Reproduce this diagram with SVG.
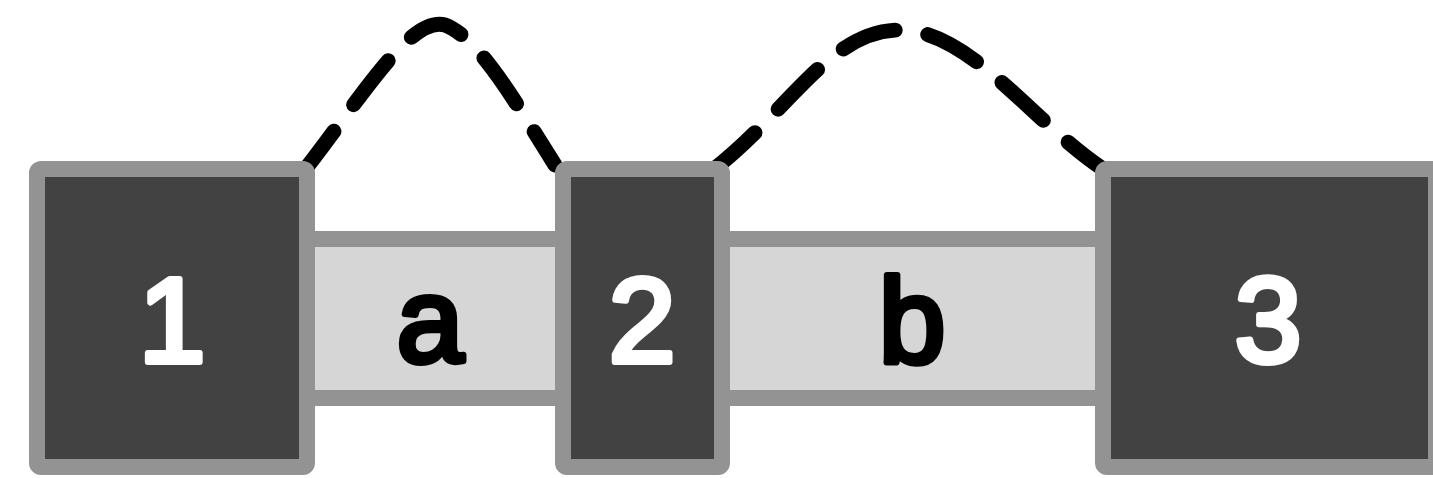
<svg xmlns="http://www.w3.org/2000/svg" width="1433" height="478" viewBox="0 0 1433 478">
<style>
.box{fill:#424242;stroke:#939393;stroke-width:16;stroke-linejoin:round}
.link{fill:#d6d6d6;stroke:#939393;stroke-width:16}
.dash{fill:none;stroke:#000;stroke-width:15;stroke-linecap:round;stroke-dasharray:56 33}
.lbl{font-family:"Liberation Sans",Arial,sans-serif;font-size:120px;text-anchor:middle;stroke-width:6;stroke-linejoin:round}
.lw{fill:#fff;stroke:#fff}
.lb{fill:#000;stroke:#000}
</style>
<rect width="1433" height="478" fill="#fff"/>
<g id="connectors">
<path class="dash" d="M300,176 C360,100 410,15 445,25 C480,38 520,110 555,165"/>
<path class="dash" d="M713,170 C790,110 830,30 900,30 C970,30 1030,120 1103,169"/>
</g>
<g id="link-a">
<rect class="link" x="300" y="239" width="270" height="159"/>
<text class="lbl lb" x="430" y="362">a</text>
</g>
<g id="link-b">
<rect class="link" x="715" y="239" width="395" height="159"/>
<text class="lbl lb" x="912" y="362">b</text>
</g>
<g id="node-1">
<rect class="box" x="37" y="169" width="270" height="298" rx="4"/>
<text class="lbl lw" x="172" y="362">1</text>
</g>
<g id="node-2">
<rect class="box" x="563" y="169" width="159" height="298" rx="4"/>
<text class="lbl lw" x="642" y="362">2</text>
</g>
<g id="node-3">
<rect class="box" x="1103" y="169" width="333" height="298" rx="4"/>
<text class="lbl lw" x="1268" y="362">3</text>
</g>
</svg>
